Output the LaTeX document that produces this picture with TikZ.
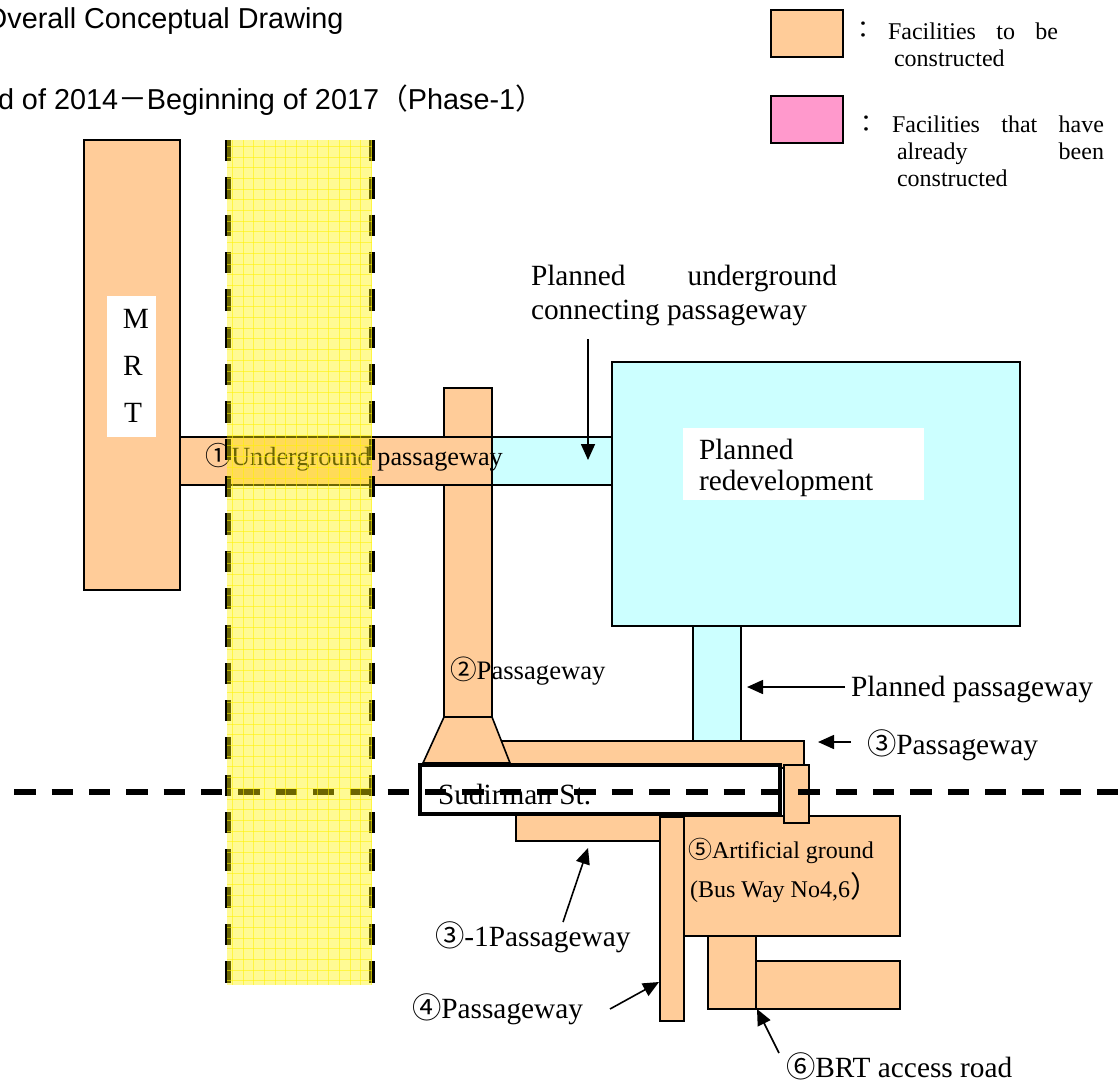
\documentclass[tikz,border=0pt]{standalone}
\usepackage{fontspec}
\setmainfont{Liberation Serif}
\newfontfamily\arialfont{Liberation Sans}
\newfontfamily\cjk{Noto Sans CJK JP}
\usetikzlibrary{arrows.meta}
\definecolor{fac}{HTML}{FFCC99}
\definecolor{plan}{HTML}{CCFFFF}
\definecolor{built}{HTML}{FF99CC}
\newcommand{\cn}[1]{{\cjk #1}}
\newcommand{\fs}[1]{\fontsize{#1}{#1}\selectfont}
% name, style, x1, y1, x2, y2 (pixels)
\newcommand{\bx}[6]{%
  \pgfmathsetmacro{\bw}{(#5-#3)*0.75}%
  \pgfmathsetmacro{\bh}{(#6-#4)*0.75}%
  \node[#2,minimum width=\bw pt,minimum height=\bh pt] (#1) at ({(#3+#5)/2},{(#4+#6)/2}) {};}
\tikzset{
  x=0.75pt,y=-0.75pt,
  block/.style={draw=black,line width=1.2pt,inner sep=0pt,outer sep=0pt,rectangle},
  facbox/.style={block,fill=fac},
  planbox/.style={block,fill=plan},
  builtbox/.style={block,fill=built},
  whitebox/.style={fill=white,draw=none,inner sep=0pt,outer sep=0pt,rectangle},
  roadbox/.style={draw=black,line width=3.6pt,fill=white,inner sep=0pt,outer sep=0pt,rectangle},
  lab/.style={inner sep=0pt,outer sep=0pt,anchor=west,font=\fs{22}},
  midlab/.style={lab,font=\fs{19.7}},
  smalllab/.style={lab,font=\fs{18}},
  headlab/.style={inner sep=0pt,outer sep=0pt,anchor=west,font=\arialfont\fs{21.6}},
  ptr/.style={line width=1.2pt,-{Triangle[length=12pt,width=10.5pt]}},
  bound/.style={line width=4.2pt,dash pattern=on 16pt off 12pt},
  zonegrid/.style={yellow,line width=0.3pt,draw opacity=0.55},
}
\begin{document}
\begin{tikzpicture}
\useasboundingbox (0,0) rectangle (1119,1081);
% header
\node[headlab] (head1) at (-15,21) {Overall Conceptual Drawing};
\node[headlab] (head2) at (-2,100) {d of 2014\cn{－}Beginning of 2017\cn{（}Phase-1\cn{）}};
% legend
\bx{legA}{facbox}{771}{10}{843}{57}
\bx{legB}{builtbox}{771}{96}{843}{143}
\node[smalllab,anchor=center] (colA) at (863,30) {\cn{：}};
\node[smalllab,anchor=center] (colB) at (866,124) {\cn{：}};
\node[smalllab] (legA1) at (888,31) {\hbox to 127.5pt{Facilities\hfill to\hfill be}};
\node[smalllab] (legA2) at (894,58) {constructed};
\node[smalllab] (legB1) at (892,124) {\hbox to 159pt{Facilities\hfill that\hfill have}};
\node[smalllab] (legB2) at (897,154) {\hbox to 155.25pt{already\hfill been}};
\node[smalllab] (legB3) at (897,178) {constructed};
% MRT
\bx{mrt}{facbox}{84}{140}{180}{590}
\bx{mrtw}{whitebox}{107}{296}{156}{437}
\node[lab,anchor=center] (mrtM) at (136,319) {M};
\node[lab,anchor=center] (mrtR) at (133,366) {R};
\node[lab,anchor=center] (mrtT) at (133,413) {T};
% passages
\bx{pass2}{facbox}{444}{388}{492}{717}
\bx{pass1}{facbox}{180}{437}{492}{485}
\bx{link}{planbox}{492}{437}{612}{485}
\bx{redev}{planbox}{612}{362}{1020}{626}
\bx{redevw}{whitebox}{683}{428}{924}{500}
\node[lab] (redev1) at (699,449) {Planned};
\node[lab] (redev2) at (699,483) {redevelopment};
\bx{plp}{planbox}{693}{626}{741}{741}
\bx{pass3}{facbox}{500}{741}{804}{768}
\draw[facbox] (444,717) -- (492,717) -- (510,763) -- (423,763) -- cycle;
\bx{p3a}{facbox}{516}{815}{660}{841}
\bx{ground}{facbox}{684}{816}{900}{936}
\bx{brtA}{facbox}{756}{961}{900}{1009}
\bx{brtB}{facbox}{708}{936}{756}{1009}
\bx{pass4}{facbox}{660}{817}{684}{1021}
\bx{road}{roadbox}{420}{765}{780}{814}
\bx{stub}{facbox}{784}{765}{809}{823}
\node[lab] (sud) at (438,795) {Sudirman St.};
% boundary
\coordinate (dashL) at (14.4,792);
\coordinate (dashR) at (1119,792);
\draw[bound] (dashL) -- (dashR);
\coordinate (zoneA) at (228,140);
\coordinate (zoneB) at (228,985);
\coordinate (zoneC) at (372,140);
\coordinate (zoneD) at (372,985);
\draw[bound] (zoneA) -- (zoneB);
\draw[bound] (zoneC) -- (zoneD);
% passageway labels
\node[midlab] (lab1) at (205,457) {\cn{①}Underground passageway};
\node[lab,font=\fs{20}] (lab2) at (450,671) {\cn{②}Passageway};
% yellow zone
\fill[yellow,fill opacity=0.42] (227,140) rectangle (372,985);
\begin{scope}
\clip (227,140) rectangle (372,985);
\foreach \gx in {0,...,13} \draw[zonegrid] ({232+\gx*10.7},140) -- ({232+\gx*10.7},985);
\foreach \gy in {0,...,79} \draw[zonegrid] (227,{146+\gy*10.7}) -- (372,{146+\gy*10.7});
\end{scope}
% other labels
\node[lab] (ug1) at (531,278) {\hbox to 229.5pt{Planned\hfill underground}};
\node[lab] (ug2) at (531,313) {connecting passageway};
\node[lab] (plbl) at (851,689) {Planned passageway};
\node[lab] (lab3) at (867,745) {\cn{③}Passageway};
\node[smalllab] (lab5) at (688,851) {\cn{⑤}Artificial ground};
\node[smalllab] (lab5b) at (690,888) {(Bus Way No4,6{\fs{22}\cn{）}}};
\node[lab] (lab31) at (435,937) {\cn{③}-1Passageway};
\node[lab] (lab4) at (412,1009) {\cn{④}Passageway};
\node[lab] (lab6) at (786,1066) {\cn{⑥}BRT access road};
% pointers
\coordinate (a1) at (588,339); \coordinate (a1e) at (588,460);
\coordinate (a2) at (845,687); \coordinate (a2e) at (747,687);
\coordinate (a3) at (851,742); \coordinate (a3e) at (818,742);
\coordinate (a4) at (563,922); \coordinate (a4e) at (588,848);
\coordinate (a5) at (610,1009); \coordinate (a5e) at (659,982);
\coordinate (a6) at (779,1053); \coordinate (a6e) at (757,1009);
\draw[ptr] (a1) -- (a1e);
\draw[ptr] (a2) -- (a2e);
\draw[ptr] (a3) -- (a3e);
\draw[ptr] (a4) -- (a4e);
\draw[ptr] (a5) -- (a5e);
\draw[ptr] (a6) -- (a6e);
\end{tikzpicture}
\end{document}
